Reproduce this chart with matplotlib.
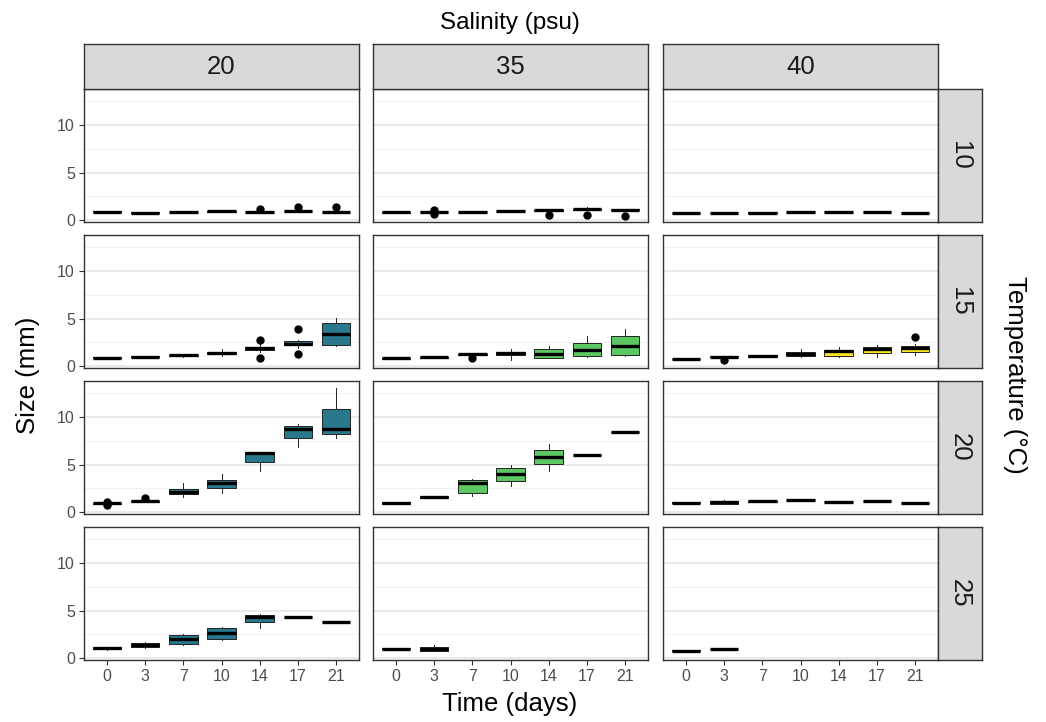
import matplotlib
matplotlib.use('Agg')
import matplotlib.pyplot as plt
from matplotlib.patches import Rectangle

plt.rcParams['font.family'] = ['Liberation Sans', 'DejaVu Sans']

# Facet levels
salinity = [20, 35, 40]
temperature = [10, 15, 20, 25]
times = [0, 3, 7, 10, 14, 17, 21]
fill_colors = ['#2A788E', '#5DC863', '#FDE725']

# Box stats per panel: (whisker low, q1, median, q3, whisker high), one per time
t10_s20 = [(0.78, 0.80, 0.85, 0.92, 0.95), (0.74, 0.75, 0.78, 0.80, 0.82), (0.80, 0.82, 0.85, 0.88, 0.90),
           (0.88, 0.90, 0.92, 0.95, 0.97), (0.80, 0.82, 0.86, 0.90, 0.95), (0.90, 0.92, 0.95, 0.98, 1.00),
           (0.80, 0.82, 0.85, 0.88, 0.90)]
t10_s20_out = [[], [], [], [], [1.2], [1.34], [1.34]]
t10_s35 = [(0.78, 0.79, 0.81, 0.83, 0.85), (0.80, 0.82, 0.85, 0.88, 0.90), (0.86, 0.87, 0.88, 0.90, 0.92),
           (0.90, 0.92, 0.95, 0.98, 1.00), (0.98, 1.00, 1.06, 1.10, 1.15), (1.05, 1.10, 1.16, 1.22, 1.40),
           (1.00, 1.02, 1.10, 1.18, 1.22)]
t10_s35_out = [[], [0.65, 1.05], [], [], [0.5], [0.53], [0.4]]
t10_s40 = [(0.72, 0.73, 0.75, 0.77, 0.78), (0.68, 0.70, 0.72, 0.75, 0.77), (0.76, 0.77, 0.78, 0.80, 0.81),
           (0.82, 0.83, 0.85, 0.87, 0.88), (0.85, 0.86, 0.88, 0.90, 0.91), (0.85, 0.86, 0.88, 0.90, 0.91),
           (0.72, 0.73, 0.75, 0.77, 0.78)]
t10_s40_out = [[], [], [], [], [], [], []]

t15_s20 = [(0.85, 0.87, 0.89, 0.91, 0.93), (0.95, 0.97, 1.00, 1.03, 1.05), (0.98, 1.02, 1.13, 1.20, 1.25),
           (1.10, 1.25, 1.37, 1.50, 1.80), (1.50, 1.70, 1.87, 2.00, 2.30), (1.90, 2.20, 2.37, 2.60, 2.80),
           (2.08, 2.22, 3.38, 4.54, 5.10)]
t15_s20_out = [[], [], [], [], [0.9, 2.7], [1.3, 3.95], []]
t15_s35 = [(0.78, 0.79, 0.81, 0.83, 0.85), (0.88, 0.90, 0.92, 0.94, 0.96), (1.00, 1.15, 1.23, 1.27, 1.32),
           (0.60, 1.16, 1.34, 1.51, 1.76), (0.81, 0.85, 1.30, 1.80, 2.08), (0.95, 1.09, 1.65, 2.43, 3.13),
           (1.06, 1.20, 2.15, 3.20, 3.94)]
t15_s35_out = [[], [], [0.85], [], [], [], []]
t15_s40 = [(0.74, 0.75, 0.77, 0.79, 0.80), (0.90, 0.95, 0.99, 1.02, 1.05), (0.95, 1.00, 1.06, 1.12, 1.20),
           (0.92, 1.02, 1.30, 1.48, 1.76), (1.00, 1.09, 1.62, 1.73, 1.97), (0.99, 1.37, 1.83, 2.04, 2.18),
           (1.16, 1.51, 1.94, 2.15, 2.30)]
t15_s40_out = [[], [0.6], [], [], [], [], [3.06]]

t20_s20 = [(0.85, 0.88, 0.92, 0.96, 1.00), (1.05, 1.08, 1.13, 1.18, 1.22), (1.62, 1.87, 2.15, 2.46, 3.06),
           (2.00, 2.57, 3.06, 3.38, 3.98), (4.30, 5.25, 6.23, 6.34, 6.34), (6.87, 7.75, 8.77, 9.05, 9.30),
           (7.75, 8.20, 8.70, 10.88, 13.10)]
t20_s20_out = [[0.75, 1.1], [1.48], [], [], [], [], []]
t20_s35 = [(0.88, 0.90, 0.95, 1.05, 1.10), (1.45, 1.50, 1.55, 1.65, 1.70), (1.69, 2.04, 3.10, 3.35, 3.52),
           (2.78, 3.24, 4.01, 4.68, 4.93), (4.33, 5.07, 5.77, 6.51, 7.22), (6.00, 6.01, 6.02, 6.03, 6.04),
           (8.43, 8.44, 8.45, 8.46, 8.47)]
t20_s35_out = [[], [], [], [], [], [], []]
t20_s40 = [(0.95, 0.97, 0.99, 1.02, 1.04), (0.80, 0.84, 1.02, 1.22, 1.28), (1.10, 1.11, 1.13, 1.15, 1.16),
           (1.24, 1.25, 1.27, 1.29, 1.30), (1.03, 1.04, 1.06, 1.08, 1.09), (1.17, 1.18, 1.20, 1.22, 1.23),
           (0.96, 0.97, 0.99, 1.01, 1.02)]
t20_s40_out = [[], [], [], [], [], [], []]

t25_s20 = [(0.90, 0.92, 1.05, 1.15, 1.20), (1.05, 1.12, 1.36, 1.64, 1.70), (1.36, 1.47, 2.06, 2.45, 2.50),
           (1.92, 2.03, 2.66, 3.22, 3.29), (3.15, 3.81, 4.37, 4.55, 4.60), (4.28, 4.29, 4.30, 4.31, 4.32),
           (3.79, 3.80, 3.81, 3.82, 3.83)]
t25_s20_out = [[], [], [], [], [], [], []]
t25_s35 = [(0.98, 0.99, 1.01, 1.03, 1.04), (0.75, 0.80, 0.98, 1.15, 1.40)]
t25_s35_out = [[], []]
t25_s40 = [(0.76, 0.77, 0.80, 0.82, 0.83), (0.96, 0.97, 0.98, 0.99, 1.00)]
t25_s40_out = [[], []]

panels = {
    (10, 20): (t10_s20, t10_s20_out), (10, 35): (t10_s35, t10_s35_out), (10, 40): (t10_s40, t10_s40_out),
    (15, 20): (t15_s20, t15_s20_out), (15, 35): (t15_s35, t15_s35_out), (15, 40): (t15_s40, t15_s40_out),
    (20, 20): (t20_s20, t20_s20_out), (20, 35): (t20_s35, t20_s35_out), (20, 40): (t20_s40, t20_s40_out),
    (25, 20): (t25_s20, t25_s20_out), (25, 35): (t25_s35, t25_s35_out), (25, 40): (t25_s40, t25_s40_out),
}

W, H = 1046, 722
fig = plt.figure(figsize=(W / 100, H / 100), dpi=100)

col_left = [84, 373, 663]
row_top = [89, 235, 381, 527]
pw, ph = 275, 133
strip_h = 45
strip_w = 44
border = '#333333'

def fx(px):
    return px / W

def fy(py):
    return 1 - py / H

for r, temp in enumerate(temperature):
    for c, sal in enumerate(salinity):
        ax = fig.add_axes([fx(col_left[c]), fy(row_top[r] + ph), pw / W, ph / H])
        boxes, outs = panels[(temp, sal)]
        stats = []
        for (lo, q1, med, q3, hi), fl in zip(boxes, outs):
            stats.append(dict(whislo=lo, q1=q1, med=med, q3=q3, whishi=hi, fliers=fl))
        pos = list(range(1, len(stats) + 1))
        ax.bxp(stats, positions=pos, widths=0.75, patch_artist=True, showcaps=False,
               boxprops=dict(facecolor=fill_colors[c], edgecolor='#222222', linewidth=0.7),
               medianprops=dict(color='black', linewidth=2.4, solid_capstyle='butt'),
               whiskerprops=dict(color='#222222', linewidth=0.7),
               flierprops=dict(marker='o', markerfacecolor='black', markeredgecolor='black',
                               markersize=5, linestyle='none'),
               zorder=3)
        ax.set_xlim(0.4, 7.6)
        ax.set_ylim(-0.2, 13.8)
        ax.set_yticks([0, 5, 10])
        ax.set_yticks([2.5, 7.5, 12.5], minor=True)
        ax.grid(True, which='major', axis='y', color='#E6E6E6', linewidth=1.2, zorder=0)
        ax.grid(True, which='minor', axis='y', color='#F0F0F0', linewidth=0.7, zorder=0)
        ax.set_axisbelow(True)
        ax.set_xticks(range(1, 8))
        ax.tick_params(which='minor', length=0)
        ax.tick_params(which='major', length=3.5, width=0.8, color='#333333',
                       labelsize=11.5, labelcolor='#4D4D4D', pad=3)
        if r == len(temperature) - 1:
            ax.set_xticklabels([str(t) for t in times])
        else:
            ax.tick_params(axis='x', length=0, labelbottom=False)
        if c == 0:
            ax.set_yticklabels(['0', '5', '10'])
        else:
            ax.tick_params(axis='y', length=0, labelleft=False)
        for s in ax.spines.values():
            s.set_color(border)
            s.set_linewidth(1.0)

        # column strip
        if r == 0:
            sax = fig.add_axes([fx(col_left[c]), fy(row_top[0]), pw / W, strip_h / H])
            sax.add_patch(Rectangle((0, 0), 1, 1, facecolor='#D9D9D9', edgecolor='none'))
            sax.text(0.5, 0.5, str(sal), ha='center', va='center', fontsize=18.5, color='#1A1A1A')
            sax.set_xticks([]); sax.set_yticks([])
            sax.set_xlim(0, 1); sax.set_ylim(0, 1)
            for s in sax.spines.values():
                s.set_color(border)
                s.set_linewidth(1.0)
        # row strip
        if c == len(salinity) - 1:
            rax = fig.add_axes([fx(col_left[c] + pw), fy(row_top[r] + ph), strip_w / W, ph / H])
            rax.add_patch(Rectangle((0, 0), 1, 1, facecolor='#D9D9D9', edgecolor='none'))
            rax.text(0.5, 0.5, str(temp), ha='center', va='center', fontsize=18.5, color='#1A1A1A',
                     rotation=-90)
            rax.set_xticks([]); rax.set_yticks([])
            rax.set_xlim(0, 1); rax.set_ylim(0, 1)
            for s in rax.spines.values():
                s.set_color(border)
                s.set_linewidth(1.0)

fig.text(fx(510), fy(23), 'Salinity (psu)', ha='center', va='center', fontsize=17.5)
fig.text(fx(510), fy(704), 'Time (days)', ha='center', va='center', fontsize=18.5)
fig.text(fx(28), fy(375), 'Size (mm)', ha='center', va='center', fontsize=18.5, rotation=90)
fig.text(fx(1015), fy(375), 'Temperature (°C)', ha='center', va='center', fontsize=18.5, rotation=-90)

fig.savefig('out.png', dpi=100)
